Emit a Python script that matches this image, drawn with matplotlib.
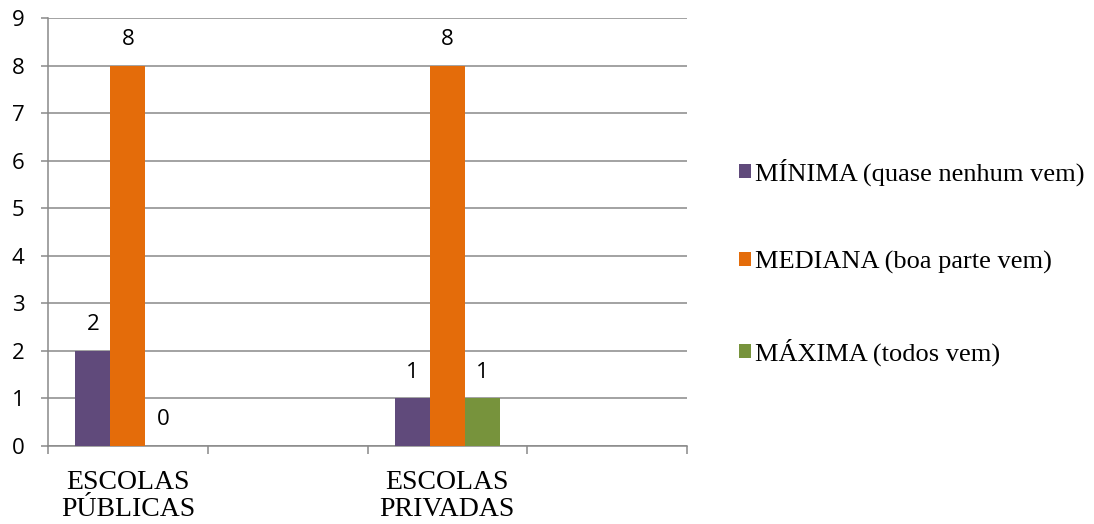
import matplotlib.pyplot as plt
import numpy as np

categories = ["ESCOLAS\nPÚBLICAS", "", "ESCOLAS\nPRIVADAS", ""]
series = ["MÍNIMA (quase nenhum vem)", "MEDIANA (boa parte vem)", "MÁXIMA (todos vem)"]
minima = [2, None, 1, None]
mediana = [8, None, 8, None]
maxima = [0, None, 1, None]
colors = ["#604A7B", "#E46C0A", "#77933C"]

fig = plt.figure(figsize=(10.94, 5.24), dpi=100)
ax = fig.add_axes([48 / 1094, 1 - 446 / 524, (687 - 48) / 1094, (446 - 18) / 524])

grid_color = "#898989"
x = np.arange(len(categories))
width = 0.219

for i, (vals, color, name) in enumerate(zip([minima, mediana, maxima], colors, series)):
    xs = [x[j] + (i - 1) * width for j in range(len(vals)) if vals[j] is not None]
    ys = [v for v in vals if v is not None]
    ax.bar(xs, ys, width=width, color=color, label=name, zorder=3)
    for xb, yb in zip(xs, ys):
        ax.annotate(str(yb), (xb, yb), xytext=(0, 19), textcoords="offset points",
                    ha="center", va="center", fontsize=16, family="Open Sans")

ax.set_xlim(-0.5, 3.5)
ax.set_ylim(0, 9)
ax.set_yticks(range(0, 10))
ax.yaxis.grid(True, color=grid_color, linewidth=1.1, zorder=0)
ax.set_axisbelow(True)

ax.set_xticks(x)
ax.set_xticklabels(categories, family="Liberation Serif", fontsize=20, linespacing=1.15)
ax.set_xticks(np.arange(-0.5, 4, 1), minor=True)
ax.tick_params(axis="x", which="major", length=0, pad=17)
ax.tick_params(axis="x", which="minor", length=6, width=1.1, color=grid_color, direction="out")
ax.tick_params(axis="y", length=5, width=1.1, color=grid_color, pad=12, labelsize=16)
for lbl in ax.get_yticklabels():
    lbl.set_family("Open Sans")

for s in ["top", "right"]:
    ax.spines[s].set_visible(False)
for s in ["left", "bottom"]:
    ax.spines[s].set_color(grid_color)
    ax.spines[s].set_linewidth(1.1)

fig.legend(loc="center left", bbox_to_anchor=(739 / 1094, 1 - 262 / 524), frameon=False,
           prop={"family": "Liberation Serif", "size": 19}, labelspacing=2.45,
           borderpad=0, borderaxespad=0,
           handlelength=0.45, handleheight=0.45, handletextpad=0.15)

fig.savefig("out.png", dpi=100)
